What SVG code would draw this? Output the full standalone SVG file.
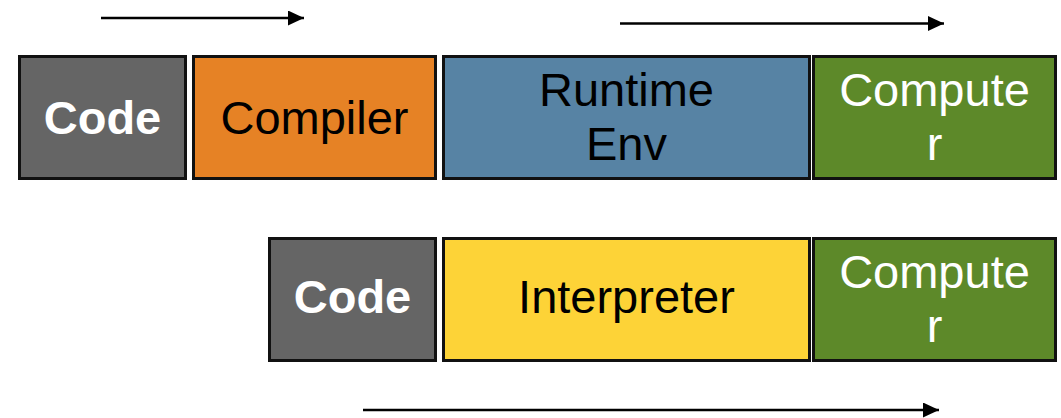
<svg xmlns="http://www.w3.org/2000/svg" width="1061" height="418" viewBox="0 0 1061 418">
<style>
.box{stroke:#111;stroke-width:3}
.t{font-family:"Liberation Sans",Arial,sans-serif;font-size:47px;text-anchor:middle}
.b{font-weight:bold;fill:#fff}
.w{fill:#fff}
.k{fill:#000}
.conn{stroke:#000;stroke-width:2.5;fill:none}
</style>
<defs>
<marker id="ah" markerUnits="userSpaceOnUse" markerWidth="16" markerHeight="15" refX="16" refY="7.5" orient="auto">
<path d="M0,0 L16,7.5 L0,15 z" fill="#000"/>
</marker>
</defs>
<rect width="1061" height="418" fill="#fff"/>
<g id="code1">
<rect class="box" x="19.5" y="56.5" width="166" height="122" fill="#656565"/>
<text class="t b" x="102.5" y="134">Code</text>
</g>
<g id="compiler">
<rect class="box" x="193.5" y="56.5" width="242" height="122" fill="#E68225"/>
<text class="t k" x="314.5" y="134">Compiler</text>
</g>
<g id="runtime">
<rect class="box" x="443.5" y="56.5" width="366" height="122" fill="#5783A4"/>
<text class="t k" x="626.5" y="106">Runtime</text>
<text class="t k" x="626.5" y="160">Env</text>
</g>
<g id="computer1">
<rect class="box" x="813.5" y="56.5" width="242" height="122" fill="#5D8929"/>
<text class="t w" x="934.5" y="106">Compute</text>
<text class="t w" x="934.5" y="160">r</text>
</g>
<g id="code2">
<rect class="box" x="269.5" y="238.5" width="166" height="122" fill="#656565"/>
<text class="t b" x="352.5" y="313">Code</text>
</g>
<g id="interpreter">
<rect class="box" x="443.5" y="238.5" width="366" height="122" fill="#FDD337"/>
<text class="t k" x="626.5" y="313">Interpreter</text>
</g>
<g id="computer2">
<rect class="box" x="813.5" y="238.5" width="242" height="122" fill="#5D8929"/>
<text class="t w" x="934.5" y="288">Compute</text>
<text class="t w" x="934.5" y="342">r</text>
</g>
<g id="connectors">
<line class="conn" x1="101" y1="18" x2="304" y2="18" marker-end="url(#ah)"/>
<line class="conn" x1="620" y1="23.5" x2="944" y2="23.5" marker-end="url(#ah)"/>
<line class="conn" x1="363" y1="410" x2="939" y2="410" marker-end="url(#ah)"/>
</g>
</svg>
